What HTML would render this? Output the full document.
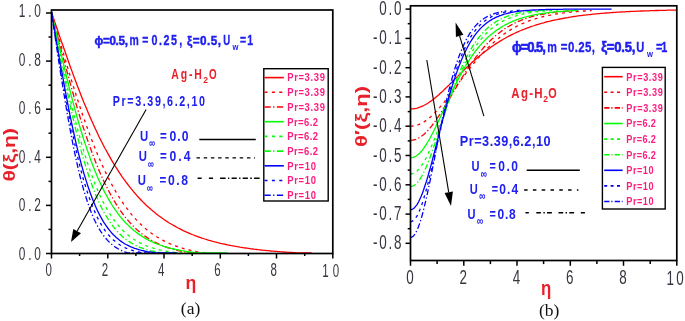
<!DOCTYPE html>
<html><head><meta charset="utf-8"><title>Figure</title>
<style>html,body{margin:0;padding:0;background:#fff}svg{display:block}</style>
</head><body>
<svg width="685" height="321" viewBox="0 0 685 321">
<rect width="685" height="321" fill="#fff"/>
<g id="panelA">
<polyline points="51.5,12.3 52.9,16.4 54.3,20.6 55.7,24.7 57.1,28.8 58.5,33.0 59.9,37.1 61.3,41.2 62.8,45.2 64.2,49.3 65.6,53.3 67.0,57.3 68.4,61.2 69.8,65.2 71.2,69.1 72.6,72.9 74.0,76.7 75.4,80.5 76.8,84.3 78.2,87.9 79.6,91.6 81.0,95.2 82.4,98.7 83.8,102.2 85.3,105.7 86.7,109.1 88.1,112.4 89.5,115.7 90.9,118.9 92.3,122.1 93.7,125.2 95.1,128.3 96.5,131.3 97.9,134.3 99.3,137.2 100.7,140.0 102.1,142.8 103.5,145.5 104.9,148.2 106.4,150.8 107.8,153.4 109.2,155.9 110.6,158.4 112.0,160.8 113.4,163.2 114.8,165.5 116.2,167.7 117.6,169.9 119.0,172.1 120.4,174.2 121.8,176.3 123.2,178.3 124.6,180.2 126.0,182.2 127.5,184.0 128.9,185.9 130.3,187.7 131.7,189.4 133.1,191.1 134.5,192.8 135.9,194.4 137.3,196.0 138.7,197.5 140.1,199.0 141.5,200.5 142.9,201.9 144.3,203.3 145.7,204.7 147.1,206.0 148.5,207.3 150.0,208.5 151.4,209.8 152.8,211.0 154.2,212.1 155.6,213.3 157.0,214.4 158.4,215.5 159.8,216.5 161.2,217.5 162.6,218.5 164.0,219.5 165.4,220.5 166.8,221.4 168.2,222.3 169.6,223.2 171.1,224.0 172.5,224.8 173.9,225.7 175.3,226.4 176.7,227.2 178.1,228.0 179.5,228.7 180.9,229.4 182.3,230.1 183.7,230.8 185.1,231.4 186.5,232.1 187.9,232.7 189.3,233.3 190.7,233.9 192.2,234.5 193.6,235.0 195.0,235.6 196.4,236.1 197.8,236.6 199.2,237.1 200.6,237.6 202.0,238.1 203.4,238.5 204.8,239.0 206.2,239.4 207.6,239.9 209.0,240.3 210.4,240.7 211.8,241.1 213.2,241.5 214.7,241.9 216.1,242.2 217.5,242.6 218.9,242.9 220.3,243.3 221.7,243.6 223.1,243.9 224.5,244.2 225.9,244.5 227.3,244.8 228.7,245.1 230.1,245.4 231.5,245.7 232.9,245.9 234.3,246.2 235.8,246.4 237.2,246.7 238.6,246.9 240.0,247.2 241.4,247.4 242.8,247.6 244.2,247.8 245.6,248.0 247.0,248.2 248.4,248.4 249.8,248.6 251.2,248.8 252.6,249.0 254.0,249.2 255.4,249.3 256.8,249.5 258.3,249.7 259.7,249.8 261.1,250.0 262.5,250.1 263.9,250.3 265.3,250.4 266.7,250.6 268.1,250.7 269.5,250.8 270.9,251.0 272.3,251.1 273.7,251.2 275.1,251.3 276.5,251.4 277.9,251.6 279.4,251.7 280.8,251.8 282.2,251.9 283.6,252.0 285.0,252.1 286.4,252.2 287.8,252.3 289.2,252.4 290.6,252.4 292.0,252.5 293.4,252.6 294.8,252.7 296.2,252.8 297.6,252.8 299.0,252.8 300.5,252.8 301.9,252.8 303.3,252.8 304.7,252.8 306.1,252.8 307.5,252.8 308.9,252.8 310.3,252.8 311.7,252.8" fill="none" stroke="#ff0000" stroke-width="1.3"/>
<polyline points="51.5,12.3 52.9,17.2 54.3,22.1 55.7,27.0 57.1,31.9 58.5,36.7 59.9,41.6 61.3,46.4 62.8,51.2 64.2,56.0 65.6,60.7 67.0,65.5 68.4,70.1 69.8,74.8 71.2,79.4 72.6,83.9 74.0,88.4 75.4,92.8 76.8,97.2 78.2,101.5 79.6,105.8 81.0,110.0 82.4,114.2 83.8,118.3 85.3,122.3 86.7,126.2 88.1,130.1 89.5,133.9 90.9,137.7 92.3,141.3 93.7,144.9 95.1,148.4 96.5,151.9 97.9,155.3 99.3,158.6 100.7,161.8 102.1,164.9 103.5,168.0 104.9,171.0 106.4,173.9 107.8,176.8 109.2,179.5 110.6,182.2 112.0,184.9 113.4,187.4 114.8,189.9 116.2,192.3 117.6,194.7 119.0,197.0 120.4,199.2 121.8,201.3 123.2,203.4 124.6,205.4 126.0,207.4 127.5,209.2 128.9,211.1 130.3,212.8 131.7,214.6 133.1,216.2 134.5,217.8 135.9,219.4 137.3,220.9 138.7,222.3 140.1,223.7 141.5,225.0 142.9,226.3 144.3,227.6 145.7,228.8 147.1,229.9 148.5,231.1 150.0,232.1 151.4,233.2 152.8,234.2 154.2,235.1 155.6,236.1 157.0,237.0 158.4,237.8 159.8,238.6 161.2,239.4 162.6,240.2 164.0,240.9 165.4,241.6 166.8,242.3 168.2,242.9 169.6,243.6 171.1,244.2 172.5,244.7 173.9,245.3 175.3,245.8 176.7,246.3 178.1,246.8 179.5,247.3 180.9,247.7 182.3,248.1 183.7,248.6 185.1,248.9 186.5,249.3 187.9,249.7 189.3,250.0 190.7,250.4 192.2,250.7 193.6,251.0 195.0,251.3 196.4,251.6 197.8,251.8 199.2,252.1 200.6,252.3 202.0,252.6 203.4,252.8 204.8,252.8 206.2,252.8" fill="none" stroke="#ff0000" stroke-width="1.3" stroke-dasharray="3 4"/>
<polyline points="51.5,12.3 52.9,17.8 54.3,23.2 55.7,28.7 57.1,34.2 58.5,39.6 59.9,45.0 61.3,50.4 62.8,55.7 64.2,61.1 65.6,66.3 67.0,71.5 68.4,76.7 69.8,81.8 71.2,86.8 72.6,91.8 74.0,96.7 75.4,101.6 76.8,106.4 78.2,111.0 79.6,115.7 81.0,120.2 82.4,124.6 83.8,129.0 85.3,133.3 86.7,137.5 88.1,141.6 89.5,145.6 90.9,149.5 92.3,153.3 93.7,157.0 95.1,160.7 96.5,164.2 97.9,167.6 99.3,171.0 100.7,174.2 102.1,177.4 103.5,180.5 104.9,183.5 106.4,186.4 107.8,189.2 109.2,191.9 110.6,194.5 112.0,197.0 113.4,199.5 114.8,201.9 116.2,204.2 117.6,206.4 119.0,208.5 120.4,210.6 121.8,212.5 123.2,214.5 124.6,216.3 126.0,218.1 127.5,219.8 128.9,221.4 130.3,223.0 131.7,224.5 133.1,225.9 134.5,227.3 135.9,228.7 137.3,230.0 138.7,231.2 140.1,232.4 141.5,233.5 142.9,234.6 144.3,235.6 145.7,236.6 147.1,237.6 148.5,238.5 150.0,239.4 151.4,240.2 152.8,241.0 154.2,241.8 155.6,242.5 157.0,243.2 158.4,243.9 159.8,244.5 161.2,245.1 162.6,245.7 164.0,246.3 165.4,246.8 166.8,247.3 168.2,247.8 169.6,248.2 171.1,248.7 172.5,249.1 173.9,249.5 175.3,249.9 176.7,250.2 178.1,250.6 179.5,250.9 180.9,251.2 182.3,251.5 183.7,251.8 185.1,252.0 186.5,252.3 187.9,252.5 189.3,252.8 190.7,252.8 192.2,252.8" fill="none" stroke="#ff0000" stroke-width="1.3" stroke-dasharray="5.8 2.3 1.3 2.3"/>
<polyline points="51.5,12.3 52.9,18.5 54.3,24.6 55.7,30.8 57.1,36.9 58.5,43.0 59.9,49.1 61.3,55.1 62.8,61.1 64.2,67.0 65.6,72.8 67.0,78.5 68.4,84.2 69.8,89.8 71.2,95.3 72.6,100.6 74.0,105.9 75.4,111.1 76.8,116.2 78.2,121.1 79.6,125.9 81.0,130.7 82.4,135.3 83.8,139.7 85.3,144.1 86.7,148.3 88.1,152.4 89.5,156.4 90.9,160.3 92.3,164.1 93.7,167.7 95.1,171.2 96.5,174.6 97.9,177.9 99.3,181.1 100.7,184.1 102.1,187.1 103.5,189.9 104.9,192.7 106.4,195.3 107.8,197.9 109.2,200.3 110.6,202.7 112.0,205.0 113.4,207.1 114.8,209.2 116.2,211.2 117.6,213.2 119.0,215.0 120.4,216.8 121.8,218.5 123.2,220.1 124.6,221.7 126.0,223.2 127.5,224.6 128.9,226.0 130.3,227.3 131.7,228.6 133.1,229.8 134.5,231.0 135.9,232.1 137.3,233.1 138.7,234.1 140.1,235.1 141.5,236.0 142.9,236.9 144.3,237.8 145.7,238.6 147.1,239.4 148.5,240.1 150.0,240.8 151.4,241.5 152.8,242.1 154.2,242.8 155.6,243.4 157.0,243.9 158.4,244.5 159.8,245.0 161.2,245.5 162.6,245.9 164.0,246.4 165.4,246.8 166.8,247.2 168.2,247.6 169.6,248.0 171.1,248.4 172.5,248.7 173.9,249.0 175.3,249.3 176.7,249.6 178.1,249.9 179.5,250.2 180.9,250.4 182.3,250.7 183.7,250.9 185.1,251.2 186.5,251.4 187.9,251.6 189.3,251.8 190.7,252.0 192.2,252.1 193.6,252.3 195.0,252.5 196.4,252.6 197.8,252.8 199.2,252.8 200.6,252.8 202.0,252.8 203.4,252.8 204.8,252.8 206.2,252.8 207.6,252.8 209.0,252.8 210.4,252.8 211.8,252.8 213.2,252.8 214.7,252.8 216.1,252.8 217.5,252.8 218.9,252.8 220.3,252.8 221.7,252.8 223.1,252.8 224.5,252.8 225.9,252.8 227.3,252.8" fill="none" stroke="#00ff00" stroke-width="1.3"/>
<polyline points="51.5,12.3 52.9,19.1 54.3,25.9 55.7,32.7 57.1,39.5 58.5,46.3 59.9,52.9 61.3,59.6 62.8,66.1 64.2,72.6 65.6,79.0 67.0,85.3 68.4,91.5 69.8,97.6 71.2,103.5 72.6,109.4 74.0,115.1 75.4,120.7 76.8,126.2 78.2,131.5 79.6,136.7 81.0,141.7 82.4,146.6 83.8,151.4 85.3,156.0 86.7,160.4 88.1,164.7 89.5,168.9 90.9,172.9 92.3,176.8 93.7,180.5 95.1,184.1 96.5,187.5 97.9,190.8 99.3,194.0 100.7,197.0 102.1,200.0 103.5,202.7 104.9,205.4 106.4,208.0 107.8,210.4 109.2,212.7 110.6,215.0 112.0,217.1 113.4,219.1 114.8,221.0 116.2,222.8 117.6,224.6 119.0,226.2 120.4,227.8 121.8,229.3 123.2,230.7 124.6,232.1 126.0,233.3 127.5,234.6 128.9,235.7 130.3,236.8 131.7,237.8 133.1,238.8 134.5,239.7 135.9,240.6 137.3,241.4 138.7,242.2 140.1,242.9 141.5,243.6 142.9,244.3 144.3,244.9 145.7,245.5 147.1,246.1 148.5,246.6 150.0,247.1 151.4,247.6 152.8,248.0 154.2,248.4 155.6,248.8 157.0,249.2 158.4,249.5 159.8,249.9 161.2,250.2 162.6,250.5 164.0,250.8 165.4,251.0 166.8,251.3 168.2,251.5 169.6,251.7 171.1,251.9 172.5,252.1 173.9,252.3 175.3,252.5 176.7,252.6 178.1,252.8 179.5,252.8 180.9,252.8 182.3,252.8 183.7,252.8 185.1,252.8 186.5,252.8 187.9,252.8 189.3,252.8 190.7,252.8 192.2,252.8" fill="none" stroke="#00ff00" stroke-width="1.3" stroke-dasharray="3 4"/>
<polyline points="51.5,12.3 52.9,19.7 54.3,27.0 55.7,34.4 57.1,41.7 58.5,48.9 59.9,56.1 61.3,63.2 62.8,70.3 64.2,77.2 65.6,84.0 67.0,90.8 68.4,97.4 69.8,103.8 71.2,110.2 72.6,116.4 74.0,122.4 75.4,128.3 76.8,134.0 78.2,139.6 79.6,145.0 81.0,150.2 82.4,155.3 83.8,160.2 85.3,164.9 86.7,169.5 88.1,173.8 89.5,178.0 90.9,182.1 92.3,186.0 93.7,189.7 95.1,193.3 96.5,196.7 97.9,199.9 99.3,203.0 100.7,206.0 102.1,208.8 103.5,211.5 104.9,214.0 106.4,216.4 107.8,218.7 109.2,220.9 110.6,223.0 112.0,224.9 113.4,226.8 114.8,228.5 116.2,230.2 117.6,231.8 119.0,233.2 120.4,234.6 121.8,235.9 123.2,237.2 124.6,238.3 126.0,239.4 127.5,240.5 128.9,241.4 130.3,242.4 131.7,243.2 133.1,244.0 134.5,244.8 135.9,245.5 137.3,246.2 138.7,246.8 140.1,247.4 141.5,247.9 142.9,248.4 144.3,248.9 145.7,249.4 147.1,249.8 148.5,250.2 150.0,250.6 151.4,250.9 152.8,251.2 154.2,251.5 155.6,251.8 157.0,252.1 158.4,252.3 159.8,252.6 161.2,252.8 162.6,252.8 164.0,252.8 165.4,252.8 166.8,252.8 168.2,252.8 169.6,252.8 171.1,252.8 172.5,252.8 173.9,252.8 175.3,252.8 176.7,252.8 178.1,252.8" fill="none" stroke="#00ff00" stroke-width="1.3" stroke-dasharray="5.8 2.3 1.3 2.3"/>
<polyline points="51.5,12.3 52.9,20.6 54.3,28.9 55.7,37.1 57.1,45.3 58.5,53.4 59.9,61.5 61.3,69.4 62.8,77.2 64.2,84.9 65.6,92.5 67.0,99.8 68.4,107.0 69.8,114.1 71.2,120.9 72.6,127.6 74.0,134.0 75.4,140.3 76.8,146.3 78.2,152.1 79.6,157.7 81.0,163.1 82.4,168.2 83.8,173.2 85.3,177.9 86.7,182.4 88.1,186.7 89.5,190.8 90.9,194.7 92.3,198.4 93.7,202.0 95.1,205.3 96.5,208.4 97.9,211.4 99.3,214.2 100.7,216.9 102.1,219.4 103.5,221.8 104.9,224.0 106.4,226.1 107.8,228.0 109.2,229.8 110.6,231.6 112.0,233.2 113.4,234.7 114.8,236.1 116.2,237.4 117.6,238.6 119.0,239.8 120.4,240.9 121.8,241.9 123.2,242.8 124.6,243.7 126.0,244.5 127.5,245.2 128.9,245.9 130.3,246.6 131.7,247.2 133.1,247.7 134.5,248.3 135.9,248.7 137.3,249.2 138.7,249.6 140.1,250.0 141.5,250.4 142.9,250.7 144.3,251.0 145.7,251.3 147.1,251.6 148.5,251.8 150.0,252.0 151.4,252.2 152.8,252.4 154.2,252.6 155.6,252.8 157.0,252.8 158.4,252.8 159.8,252.8 161.2,252.8 162.6,252.8 164.0,252.8 165.4,252.8 166.8,252.8 168.2,252.8 169.6,252.8 171.1,252.8 172.5,252.8 173.9,252.8 175.3,252.8 176.7,252.8" fill="none" stroke="#0000ff" stroke-width="1.3"/>
<polyline points="51.5,12.3 52.9,21.1 54.3,29.9 55.7,38.6 57.1,47.3 58.5,55.9 59.9,64.5 61.3,72.8 62.8,81.1 64.2,89.2 65.6,97.1 67.0,104.9 68.4,112.5 69.8,119.8 71.2,127.0 72.6,133.9 74.0,140.6 75.4,147.1 76.8,153.3 78.2,159.3 79.6,165.0 81.0,170.5 82.4,175.8 83.8,180.8 85.3,185.5 86.7,190.1 88.1,194.4 89.5,198.4 90.9,202.3 92.3,205.9 93.7,209.4 95.1,212.6 96.5,215.7 97.9,218.5 99.3,221.2 100.7,223.7 102.1,226.0 103.5,228.2 104.9,230.3 106.4,232.2 107.8,234.0 109.2,235.6 110.6,237.2 112.0,238.6 113.4,239.9 114.8,241.1 116.2,242.3 117.6,243.3 119.0,244.3 120.4,245.2 121.8,246.0 123.2,246.8 124.6,247.5 126.0,248.1 127.5,248.7 128.9,249.3 130.3,249.8 131.7,250.2 133.1,250.6 134.5,251.0 135.9,251.4 137.3,251.7 138.7,252.0 140.1,252.3 141.5,252.5 142.9,252.8 144.3,252.8 145.7,252.8 147.1,252.8 148.5,252.8 150.0,252.8 151.4,252.8 152.8,252.8 154.2,252.8 155.6,252.8 157.0,252.8 158.4,252.8 159.8,252.8 161.2,252.8 162.6,252.8 164.0,252.8" fill="none" stroke="#0000ff" stroke-width="1.3" stroke-dasharray="3 4"/>
<polyline points="51.5,12.3 52.9,21.8 54.3,31.4 55.7,40.8 57.1,50.2 58.5,59.5 59.9,68.7 61.3,77.7 62.8,86.6 64.2,95.3 65.6,103.7 67.0,112.0 68.4,120.0 69.8,127.8 71.2,135.3 72.6,142.5 74.0,149.5 75.4,156.2 76.8,162.6 78.2,168.7 79.6,174.5 81.0,180.1 82.4,185.4 83.8,190.4 85.3,195.1 86.7,199.5 88.1,203.7 89.5,207.7 90.9,211.4 92.3,214.9 93.7,218.2 95.1,221.2 96.5,224.0 97.9,226.7 99.3,229.1 100.7,231.4 102.1,233.5 103.5,235.5 104.9,237.3 106.4,239.0 107.8,240.6 109.2,242.0 110.6,243.3 112.0,244.5 113.4,245.6 114.8,246.7 116.2,247.6 117.6,248.5 119.0,249.3 120.4,250.0 121.8,250.7 123.2,251.3 124.6,251.8 126.0,252.3 127.5,252.8 128.9,252.8 130.3,252.8 131.7,252.8 133.1,252.8 134.5,252.8 135.9,252.8 137.3,252.8 138.7,252.8 140.1,252.8 141.5,252.8 142.9,252.8 144.3,252.8 145.7,252.8 147.1,252.8 148.5,252.8 150.0,252.8" fill="none" stroke="#0000ff" stroke-width="1.3" stroke-dasharray="5.8 2.3 1.3 2.3"/>
<rect x="51.5" y="10.0" width="281.3" height="243.5" fill="none" stroke="#000" stroke-width="1.7"/>
<line x1="46.0" y1="253.5" x2="51.5" y2="253.5" stroke="#000" stroke-width="1.5"/>
<line x1="48.5" y1="229.4" x2="51.5" y2="229.4" stroke="#000" stroke-width="1.5"/>
<line x1="46.0" y1="205.4" x2="51.5" y2="205.4" stroke="#000" stroke-width="1.5"/>
<line x1="48.5" y1="181.4" x2="51.5" y2="181.4" stroke="#000" stroke-width="1.5"/>
<line x1="46.0" y1="157.3" x2="51.5" y2="157.3" stroke="#000" stroke-width="1.5"/>
<line x1="48.5" y1="133.2" x2="51.5" y2="133.2" stroke="#000" stroke-width="1.5"/>
<line x1="46.0" y1="109.2" x2="51.5" y2="109.2" stroke="#000" stroke-width="1.5"/>
<line x1="48.5" y1="85.2" x2="51.5" y2="85.2" stroke="#000" stroke-width="1.5"/>
<line x1="46.0" y1="61.1" x2="51.5" y2="61.1" stroke="#000" stroke-width="1.5"/>
<line x1="48.5" y1="37.0" x2="51.5" y2="37.0" stroke="#000" stroke-width="1.5"/>
<line x1="46.0" y1="13.0" x2="51.5" y2="13.0" stroke="#000" stroke-width="1.5"/>
<line x1="51.5" y1="253.5" x2="51.5" y2="258.5" stroke="#000" stroke-width="1.5"/>
<line x1="79.6" y1="253.5" x2="79.6" y2="256.0" stroke="#000" stroke-width="1.5"/>
<line x1="107.8" y1="253.5" x2="107.8" y2="258.5" stroke="#000" stroke-width="1.5"/>
<line x1="135.9" y1="253.5" x2="135.9" y2="256.0" stroke="#000" stroke-width="1.5"/>
<line x1="164.0" y1="253.5" x2="164.0" y2="258.5" stroke="#000" stroke-width="1.5"/>
<line x1="192.2" y1="253.5" x2="192.2" y2="256.0" stroke="#000" stroke-width="1.5"/>
<line x1="220.3" y1="253.5" x2="220.3" y2="258.5" stroke="#000" stroke-width="1.5"/>
<line x1="248.4" y1="253.5" x2="248.4" y2="256.0" stroke="#000" stroke-width="1.5"/>
<line x1="276.5" y1="253.5" x2="276.5" y2="258.5" stroke="#000" stroke-width="1.5"/>
<line x1="304.7" y1="253.5" x2="304.7" y2="256.0" stroke="#000" stroke-width="1.5"/>
<line x1="332.8" y1="253.5" x2="332.8" y2="258.5" stroke="#000" stroke-width="1.5"/>
<text transform="translate(18.8,259.6) scale(0.66,1)" font-family="Liberation Sans, Arial, sans-serif" font-size="18" fill="#3a3340" letter-spacing="4.16">0.0</text>
<text transform="translate(18.8,211.2) scale(0.66,1)" font-family="Liberation Sans, Arial, sans-serif" font-size="18" fill="#3a3340" letter-spacing="4.16">0.2</text>
<text transform="translate(18.8,162.8) scale(0.66,1)" font-family="Liberation Sans, Arial, sans-serif" font-size="18" fill="#3a3340" letter-spacing="4.16">0.4</text>
<text transform="translate(18.8,114.3) scale(0.66,1)" font-family="Liberation Sans, Arial, sans-serif" font-size="18" fill="#3a3340" letter-spacing="4.16">0.6</text>
<text transform="translate(18.8,65.9) scale(0.66,1)" font-family="Liberation Sans, Arial, sans-serif" font-size="18" fill="#3a3340" letter-spacing="4.16">0.8</text>
<text transform="translate(18.8,17.4) scale(0.66,1)" font-family="Liberation Sans, Arial, sans-serif" font-size="18" fill="#3a3340" letter-spacing="4.16">1.0</text>
<text transform="translate(45.5,276.4) scale(0.64,1)" font-family="Liberation Sans, Arial, sans-serif" font-size="18" fill="#3a3340">0</text>
<text transform="translate(101.8,276.4) scale(0.64,1)" font-family="Liberation Sans, Arial, sans-serif" font-size="18" fill="#3a3340">2</text>
<text transform="translate(158.0,276.4) scale(0.64,1)" font-family="Liberation Sans, Arial, sans-serif" font-size="18" fill="#3a3340">4</text>
<text transform="translate(214.3,276.4) scale(0.64,1)" font-family="Liberation Sans, Arial, sans-serif" font-size="18" fill="#3a3340">6</text>
<text transform="translate(270.5,276.4) scale(0.64,1)" font-family="Liberation Sans, Arial, sans-serif" font-size="18" fill="#3a3340">8</text>
<text transform="translate(322.2,276.6) scale(0.64,1)" font-family="Liberation Sans, Arial, sans-serif" font-size="18" fill="#3a3340" letter-spacing="6.54">10</text>
</g>
<g id="panelB">
<polyline points="410.5,108.9 411.8,108.9 413.2,108.8 414.5,108.6 415.8,108.4 417.2,108.1 418.5,107.7 419.8,107.2 421.2,106.7 422.5,106.1 423.8,105.5 425.1,104.8 426.5,104.0 427.8,103.2 429.1,102.3 430.5,101.4 431.8,100.4 433.1,99.4 434.5,98.4 435.8,97.3 437.1,96.2 438.5,95.0 439.8,93.8 441.1,92.6 442.5,91.4 443.8,90.1 445.1,88.8 446.5,87.5 447.8,86.2 449.1,84.9 450.4,83.6 451.8,82.3 453.1,80.9 454.4,79.6 455.8,78.2 457.1,76.9 458.4,75.6 459.8,74.3 461.1,72.9 462.4,71.6 463.8,70.3 465.1,69.0 466.4,67.8 467.8,66.5 469.1,65.2 470.4,64.0 471.7,62.8 473.1,61.6 474.4,60.4 475.7,59.2 477.1,58.1 478.4,56.9 479.7,55.8 481.1,54.7 482.4,53.6 483.7,52.6 485.1,51.6 486.4,50.5 487.7,49.5 489.1,48.6 490.4,47.6 491.7,46.6 493.1,45.7 494.4,44.8 495.7,43.9 497.0,43.1 498.4,42.2 499.7,41.4 501.0,40.6 502.4,39.8 503.7,39.0 505.0,38.3 506.4,37.5 507.7,36.8 509.0,36.1 510.4,35.4 511.7,34.7 513.0,34.1 514.4,33.5 515.7,32.8 517.0,32.2 518.4,31.6 519.7,31.0 521.0,30.5 522.3,29.9 523.7,29.4 525.0,28.9 526.3,28.3 527.7,27.8 529.0,27.4 530.3,26.9 531.7,26.4 533.0,26.0 534.3,25.5 535.7,25.1 537.0,24.7 538.3,24.3 539.7,23.9 541.0,23.5 542.3,23.1 543.6,22.8 545.0,22.4 546.3,22.0 547.6,21.7 549.0,21.4 550.3,21.1 551.6,20.7 553.0,20.4 554.3,20.1 555.6,19.8 557.0,19.6 558.3,19.3 559.6,19.0 561.0,18.8 562.3,18.5 563.6,18.3 565.0,18.0 566.3,17.8 567.6,17.6 568.9,17.3 570.3,17.1 571.6,16.9 572.9,16.7 574.3,16.5 575.6,16.3 576.9,16.1 578.3,15.9 579.6,15.7 580.9,15.6 582.3,15.4 583.6,15.2 584.9,15.1 586.3,14.9 587.6,14.8 588.9,14.6 590.3,14.5 591.6,14.3 592.9,14.2 594.2,14.1 595.6,13.9 596.9,13.8 598.2,13.7 599.6,13.6 600.9,13.4 602.2,13.3 603.6,13.2 604.9,13.1 606.2,13.0 607.6,12.9 608.9,12.8 610.2,12.7 611.6,12.6 612.9,12.5 614.2,12.4 615.6,12.3 616.9,12.2 618.2,12.2 619.5,12.1 620.9,12.0 622.2,11.9 623.5,11.8 624.9,11.8 626.2,11.7 627.5,11.6 628.9,11.6 630.2,11.5 631.5,11.4 632.9,11.4 634.2,11.3 635.5,11.3 636.9,11.2 638.2,11.1 639.5,11.1 640.8,11.0 642.2,11.0 643.5,10.9 644.8,10.9 646.2,10.8 647.5,10.8 648.8,10.8 650.2,10.7 651.5,10.7 652.8,10.6 654.2,10.6 655.5,10.5 656.8,10.5 658.2,10.5 659.5,10.4 660.8,10.4 662.2,10.4 663.5,10.3 664.8,10.3 666.1,10.3 667.5,10.2 668.8,10.2 670.1,10.2 671.5,10.1 672.8,10.1 674.1,10.1 675.5,10.1 676.8,10.0" fill="none" stroke="#ff0000" stroke-width="1.3"/>
<polyline points="410.5,126.2 411.8,126.2 413.2,126.0 414.5,125.8 415.8,125.5 417.2,125.1 418.5,124.7 419.8,124.1 421.2,123.5 422.5,122.8 423.8,122.0 425.1,121.1 426.5,120.2 427.8,119.2 429.1,118.1 430.5,116.9 431.8,115.7 433.1,114.5 434.5,113.1 435.8,111.8 437.1,110.3 438.5,108.9 439.8,107.4 441.1,105.8 442.5,104.2 443.8,102.6 445.1,100.9 446.5,99.2 447.8,97.5 449.1,95.8 450.4,94.0 451.8,92.3 453.1,90.5 454.4,88.7 455.8,86.9 457.1,85.1 458.4,83.3 459.8,81.5 461.1,79.8 462.4,78.0 463.8,76.2 465.1,74.5 466.4,72.7 467.8,71.0 469.1,69.3 470.4,67.6 471.7,65.9 473.1,64.3 474.4,62.7 475.7,61.1 477.1,59.5 478.4,57.9 479.7,56.4 481.1,54.9 482.4,53.5 483.7,52.1 485.1,50.7 486.4,49.3 487.7,48.0 489.1,46.6 490.4,45.4 491.7,44.1 493.1,42.9 494.4,41.7 495.7,40.6 497.0,39.5 498.4,38.4 499.7,37.3 501.0,36.3 502.4,35.3 503.7,34.3 505.0,33.4 506.4,32.5 507.7,31.6 509.0,30.8 510.4,29.9 511.7,29.1 513.0,28.4 514.4,27.6 515.7,26.9 517.0,26.2 518.4,25.5 519.7,24.9 521.0,24.2 522.3,23.6 523.7,23.1 525.0,22.5 526.3,22.0 527.7,21.4 529.0,20.9 530.3,20.4 531.7,20.0 533.0,19.5 534.3,19.1 535.7,18.7 537.0,18.3 538.3,17.9 539.7,17.5 541.0,17.2 542.3,16.8 543.6,16.5 545.0,16.2 546.3,15.9 547.6,15.6 549.0,15.3 550.3,15.1 551.6,14.8 553.0,14.6 554.3,14.3 555.6,14.1 557.0,13.9 558.3,13.7 559.6,13.5 561.0,13.3 562.3,13.1 563.6,12.9 565.0,12.8 566.3,12.6 567.6,12.5 568.9,12.3 570.3,12.2 571.6,12.0 572.9,11.9 574.3,11.8 575.6,11.7 576.9,11.5 578.3,11.4 579.6,11.3 580.9,11.2 582.3,11.1 583.6,11.0 584.9,11.0 586.3,10.9 587.6,10.8 588.9,10.7 590.3,10.6 591.6,10.6" fill="none" stroke="#ff0000" stroke-width="1.3" stroke-dasharray="3 4"/>
<polyline points="410.5,140.3 411.8,140.2 413.2,140.0 414.5,139.7 415.8,139.3 417.2,138.8 418.5,138.1 419.8,137.3 421.2,136.4 422.5,135.5 423.8,134.4 425.1,133.2 426.5,131.9 427.8,130.5 429.1,129.0 430.5,127.4 431.8,125.8 433.1,124.0 434.5,122.2 435.8,120.4 437.1,118.4 438.5,116.5 439.8,114.4 441.1,112.4 442.5,110.3 443.8,108.1 445.1,105.9 446.5,103.7 447.8,101.5 449.1,99.3 450.4,97.0 451.8,94.8 453.1,92.6 454.4,90.3 455.8,88.1 457.1,85.8 458.4,83.6 459.8,81.4 461.1,79.3 462.4,77.1 463.8,75.0 465.1,72.9 466.4,70.8 467.8,68.8 469.1,66.8 470.4,64.8 471.7,62.9 473.1,61.0 474.4,59.2 475.7,57.4 477.1,55.6 478.4,53.9 479.7,52.3 481.1,50.6 482.4,49.1 483.7,47.5 485.1,46.0 486.4,44.6 487.7,43.2 489.1,41.8 490.4,40.5 491.7,39.2 493.1,38.0 494.4,36.8 495.7,35.6 497.0,34.5 498.4,33.4 499.7,32.4 501.0,31.4 502.4,30.4 503.7,29.5 505.0,28.6 506.4,27.8 507.7,26.9 509.0,26.2 510.4,25.4 511.7,24.7 513.0,24.0 514.4,23.3 515.7,22.6 517.0,22.0 518.4,21.4 519.7,20.9 521.0,20.3 522.3,19.8 523.7,19.3 525.0,18.8 526.3,18.4 527.7,17.9 529.0,17.5 530.3,17.1 531.7,16.7 533.0,16.4 534.3,16.0 535.7,15.7 537.0,15.4 538.3,15.1 539.7,14.8 541.0,14.5 542.3,14.3 543.6,14.0 545.0,13.8 546.3,13.5 547.6,13.3 549.0,13.1 550.3,12.9 551.6,12.7 553.0,12.6 554.3,12.4 555.6,12.2 557.0,12.1 558.3,11.9 559.6,11.8 561.0,11.7 562.3,11.5 563.6,11.4 565.0,11.3 566.3,11.2 567.6,11.1 568.9,11.0 570.3,10.9 571.6,10.8 572.9,10.7 574.3,10.6 575.6,10.6" fill="none" stroke="#ff0000" stroke-width="1.3" stroke-dasharray="5.8 2.3 1.3 2.3"/>
<polyline points="410.5,157.8 411.8,157.7 413.2,157.4 414.5,156.9 415.8,156.2 417.2,155.3 418.5,154.3 419.8,153.0 421.2,151.5 422.5,149.9 423.8,148.2 425.1,146.2 426.5,144.2 427.8,142.0 429.1,139.7 430.5,137.3 431.8,134.8 433.1,132.2 434.5,129.5 435.8,126.7 437.1,123.9 438.5,121.1 439.8,118.2 441.1,115.3 442.5,112.4 443.8,109.5 445.1,106.6 446.5,103.7 447.8,100.8 449.1,97.9 450.4,95.0 451.8,92.2 453.1,89.5 454.4,86.7 455.8,84.1 457.1,81.4 458.4,78.8 459.8,76.3 461.1,73.9 462.4,71.5 463.8,69.1 465.1,66.8 466.4,64.6 467.8,62.5 469.1,60.4 470.4,58.4 471.7,56.4 473.1,54.5 474.4,52.7 475.7,50.9 477.1,49.2 478.4,47.5 479.7,45.9 481.1,44.4 482.4,42.9 483.7,41.5 485.1,40.1 486.4,38.8 487.7,37.6 489.1,36.3 490.4,35.2 491.7,34.0 493.1,33.0 494.4,31.9 495.7,30.9 497.0,30.0 498.4,29.1 499.7,28.2 501.0,27.4 502.4,26.5 503.7,25.8 505.0,25.0 506.4,24.3 507.7,23.7 509.0,23.0 510.4,22.4 511.7,21.8 513.0,21.2 514.4,20.7 515.7,20.2 517.0,19.7 518.4,19.2 519.7,18.7 521.0,18.3 522.3,17.9 523.7,17.5 525.0,17.1 526.3,16.8 527.7,16.4 529.0,16.1 530.3,15.8 531.7,15.5 533.0,15.2 534.3,14.9 535.7,14.6 537.0,14.4 538.3,14.2 539.7,13.9 541.0,13.7 542.3,13.5 543.6,13.3 545.0,13.1 546.3,12.9 547.6,12.8 549.0,12.6 550.3,12.4 551.6,12.3 553.0,12.1 554.3,12.0 555.6,11.9 557.0,11.7 558.3,11.6 559.6,11.5 561.0,11.4 562.3,11.3 563.6,11.2 565.0,11.1 566.3,11.0 567.6,10.9 568.9,10.8 570.3,10.8 571.6,10.7 572.9,10.6 574.3,10.5 575.6,10.5 576.9,10.4 578.3,10.4" fill="none" stroke="#00ff00" stroke-width="1.3"/>
<polyline points="410.5,173.9 411.8,173.8 413.2,173.4 414.5,172.8 415.8,172.0 417.2,170.9 418.5,169.5 419.8,168.0 421.2,166.2 422.5,164.2 423.8,162.0 425.1,159.7 426.5,157.2 427.8,154.5 429.1,151.6 430.5,148.7 431.8,145.6 433.1,142.4 434.5,139.1 435.8,135.7 437.1,132.3 438.5,128.8 439.8,125.3 441.1,121.8 442.5,118.2 443.8,114.7 445.1,111.1 446.5,107.6 447.8,104.1 449.1,100.6 450.4,97.2 451.8,93.8 453.1,90.5 454.4,87.2 455.8,84.0 457.1,80.9 458.4,77.9 459.8,74.9 461.1,72.0 462.4,69.2 463.8,66.5 465.1,63.9 466.4,61.4 467.8,58.9 469.1,56.6 470.4,54.3 471.7,52.1 473.1,50.0 474.4,48.0 475.7,46.0 477.1,44.2 478.4,42.4 479.7,40.7 481.1,39.1 482.4,37.5 483.7,36.0 485.1,34.6 486.4,33.3 487.7,32.0 489.1,30.8 490.4,29.6 491.7,28.5 493.1,27.4 494.4,26.4 495.7,25.5 497.0,24.6 498.4,23.7 499.7,22.9 501.0,22.1 502.4,21.4 503.7,20.7 505.0,20.1 506.4,19.5 507.7,18.9 509.0,18.3 510.4,17.8 511.7,17.3 513.0,16.8 514.4,16.4 515.7,16.0 517.0,15.6 518.4,15.2 519.7,14.9 521.0,14.5 522.3,14.2 523.7,13.9 525.0,13.6 526.3,13.4 527.7,13.1 529.0,12.9 530.3,12.7 531.7,12.5 533.0,12.3 534.3,12.1 535.7,11.9 537.0,11.7 538.3,11.6 539.7,11.4 541.0,11.3 542.3,11.2 543.6,11.1 545.0,10.9 546.3,10.8 547.6,10.7 549.0,10.6 550.3,10.5 551.6,10.5 553.0,10.4 554.3,10.3 555.6,10.2 557.0,10.2 558.3,10.1" fill="none" stroke="#00ff00" stroke-width="1.3" stroke-dasharray="3 4"/>
<polyline points="410.5,186.5 411.8,186.4 413.2,185.9 414.5,185.2 415.8,184.1 417.2,182.8 418.5,181.2 419.8,179.3 421.2,177.2 422.5,174.8 423.8,172.2 425.1,169.4 426.5,166.4 427.8,163.2 429.1,159.8 430.5,156.2 431.8,152.6 433.1,148.8 434.5,144.9 435.8,141.0 437.1,137.0 438.5,132.9 439.8,128.8 441.1,124.7 442.5,120.6 443.8,116.5 445.1,112.4 446.5,108.4 447.8,104.4 449.1,100.4 450.4,96.6 451.8,92.8 453.1,89.1 454.4,85.5 455.8,81.9 457.1,78.5 458.4,75.2 459.8,71.9 461.1,68.8 462.4,65.8 463.8,62.9 465.1,60.1 466.4,57.4 467.8,54.9 469.1,52.4 470.4,50.0 471.7,47.8 473.1,45.6 474.4,43.6 475.7,41.6 477.1,39.8 478.4,38.0 479.7,36.3 481.1,34.7 482.4,33.2 483.7,31.8 485.1,30.4 486.4,29.1 487.7,27.9 489.1,26.7 490.4,25.7 491.7,24.6 493.1,23.7 494.4,22.8 495.7,21.9 497.0,21.1 498.4,20.3 499.7,19.6 501.0,19.0 502.4,18.3 503.7,17.7 505.0,17.2 506.4,16.7 507.7,16.2 509.0,15.7 510.4,15.3 511.7,14.9 513.0,14.5 514.4,14.1 515.7,13.8 517.0,13.5 518.4,13.2 519.7,12.9 521.0,12.7 522.3,12.4 523.7,12.2 525.0,12.0 526.3,11.8 527.7,11.6 529.0,11.5 530.3,11.3 531.7,11.2 533.0,11.0 534.3,10.9 535.7,10.8 537.0,10.7 538.3,10.6 539.7,10.5 541.0,10.4 542.3,10.3 543.6,10.2 545.0,10.1 546.3,10.1 547.6,10.0 549.0,9.9" fill="none" stroke="#00ff00" stroke-width="1.3" stroke-dasharray="5.8 2.3 1.3 2.3"/>
<polyline points="410.5,209.7 411.8,209.5 413.2,208.8 414.5,207.7 415.8,206.2 417.2,204.3 418.5,202.0 419.8,199.3 421.2,196.3 422.5,192.9 423.8,189.3 425.1,185.3 426.5,181.1 427.8,176.7 429.1,172.0 430.5,167.2 431.8,162.3 433.1,157.2 434.5,152.0 435.8,146.8 437.1,141.6 438.5,136.3 439.8,131.1 441.1,125.9 442.5,120.7 443.8,115.6 445.1,110.6 446.5,105.7 447.8,101.0 449.1,96.3 450.4,91.8 451.8,87.4 453.1,83.2 454.4,79.1 455.8,75.1 457.1,71.4 458.4,67.7 459.8,64.3 461.1,61.0 462.4,57.8 463.8,54.8 465.1,52.0 466.4,49.3 467.8,46.7 469.1,44.3 470.4,42.0 471.7,39.9 473.1,37.8 474.4,35.9 475.7,34.1 477.1,32.4 478.4,30.8 479.7,29.3 481.1,27.9 482.4,26.6 483.7,25.4 485.1,24.2 486.4,23.2 487.7,22.2 489.1,21.2 490.4,20.4 491.7,19.6 493.1,18.8 494.4,18.1 495.7,17.4 497.0,16.8 498.4,16.3 499.7,15.7 501.0,15.3 502.4,14.8 503.7,14.4 505.0,14.0 506.4,13.6 507.7,13.3 509.0,13.0 510.4,12.7 511.7,12.4 513.0,12.2 514.4,11.9 515.7,11.7 517.0,11.5 518.4,11.3 519.7,11.2 521.0,11.0 522.3,10.9 523.7,10.7 525.0,10.6 526.3,10.5 527.7,10.4 529.0,10.3 530.3,10.2 531.7,10.1 533.0,10.0 534.3,10.0 535.7,9.9 537.0,9.8 538.3,9.8 539.7,9.7 541.0,9.7 542.3,9.6 543.6,9.6 545.0,9.6 546.3,9.5 547.6,9.5 549.0,9.5 550.3,9.4 551.6,9.4 553.0,9.4 554.3,9.4 555.6,9.3 557.0,9.3 558.3,9.3 559.6,9.3 561.0,9.3 562.3,9.3 563.6,9.2 565.0,9.2 566.3,9.2 567.6,9.2 568.9,9.2 570.3,9.2 571.6,9.2 572.9,9.2 574.3,9.2 575.6,9.2 576.9,9.2 578.3,9.2 579.6,9.2 580.9,9.2 582.3,9.1 583.6,9.1 584.9,9.1 586.3,9.1 587.6,9.1 588.9,9.1 590.3,9.1 591.6,9.1 592.9,9.1 594.2,9.1 595.6,9.1 596.9,9.1 598.2,9.1 599.6,9.1 600.9,9.1 602.2,9.1 603.6,9.1 604.9,9.1 606.2,9.1 607.6,9.1 608.9,9.1 610.2,9.1 611.6,9.1" fill="none" stroke="#0000ff" stroke-width="1.3"/>
<polyline points="410.5,221.7 411.8,221.4 413.2,220.7 414.5,219.4 415.8,217.7 417.2,215.6 418.5,212.9 419.8,209.9 421.2,206.4 422.5,202.6 423.8,198.4 425.1,193.9 426.5,189.1 427.8,184.1 429.1,178.8 430.5,173.3 431.8,167.7 433.1,162.0 434.5,156.2 435.8,150.4 437.1,144.5 438.5,138.6 439.8,132.7 441.1,126.9 442.5,121.2 443.8,115.6 445.1,110.1 446.5,104.7 447.8,99.5 449.1,94.4 450.4,89.5 451.8,84.7 453.1,80.2 454.4,75.8 455.8,71.6 457.1,67.6 458.4,63.8 459.8,60.2 461.1,56.7 462.4,53.5 463.8,50.4 465.1,47.5 466.4,44.8 467.8,42.2 469.1,39.8 470.4,37.5 471.7,35.4 473.1,33.4 474.4,31.6 475.7,29.8 477.1,28.2 478.4,26.7 479.7,25.3 481.1,24.1 482.4,22.9 483.7,21.8 485.1,20.7 486.4,19.8 487.7,18.9 489.1,18.1 490.4,17.4 491.7,16.7 493.1,16.0 494.4,15.4 495.7,14.9 497.0,14.4 498.4,14.0 499.7,13.6 501.0,13.2 502.4,12.8 503.7,12.5 505.0,12.2 506.4,11.9 507.7,11.7 509.0,11.5 510.4,11.3 511.7,11.1 513.0,10.9 514.4,10.7 515.7,10.6 517.0,10.5 518.4,10.3 519.7,10.2 521.0,10.1 522.3,10.0" fill="none" stroke="#0000ff" stroke-width="1.3" stroke-dasharray="3 4"/>
<polyline points="410.5,237.5 411.8,237.2 413.2,236.3 414.5,234.7 415.8,232.6 417.2,229.9 418.5,226.7 419.8,222.9 421.2,218.7 422.5,214.0 423.8,208.9 425.1,203.4 426.5,197.7 427.8,191.6 429.1,185.3 430.5,178.8 431.8,172.2 433.1,165.5 434.5,158.7 435.8,151.9 437.1,145.1 438.5,138.4 439.8,131.8 441.1,125.2 442.5,118.8 443.8,112.6 445.1,106.5 446.5,100.7 447.8,95.0 449.1,89.6 450.4,84.3 451.8,79.3 453.1,74.6 454.4,70.1 455.8,65.8 457.1,61.7 458.4,57.9 459.8,54.3 461.1,50.9 462.4,47.7 463.8,44.7 465.1,41.9 466.4,39.3 467.8,36.9 469.1,34.7 470.4,32.6 471.7,30.6 473.1,28.8 474.4,27.2 475.7,25.6 477.1,24.2 478.4,22.9 479.7,21.7 481.1,20.6 482.4,19.6 483.7,18.7 485.1,17.8 486.4,17.1 487.7,16.3 489.1,15.7 490.4,15.1 491.7,14.5 493.1,14.1 494.4,13.6 495.7,13.2 497.0,12.8 498.4,12.5 499.7,12.1 501.0,11.9 502.4,11.6 503.7,11.4 505.0,11.2 506.4,11.0" fill="none" stroke="#0000ff" stroke-width="1.3" stroke-dasharray="5.8 2.3 1.3 2.3"/>
<rect x="410.5" y="5.8" width="266.3" height="254.7" fill="none" stroke="#000" stroke-width="1.7"/>
<line x1="405.5" y1="9.1" x2="410.5" y2="9.1" stroke="#000" stroke-width="1.5"/>
<line x1="407.7" y1="23.7" x2="410.5" y2="23.7" stroke="#000" stroke-width="1.5"/>
<line x1="405.5" y1="38.4" x2="410.5" y2="38.4" stroke="#000" stroke-width="1.5"/>
<line x1="407.7" y1="53.0" x2="410.5" y2="53.0" stroke="#000" stroke-width="1.5"/>
<line x1="405.5" y1="67.7" x2="410.5" y2="67.7" stroke="#000" stroke-width="1.5"/>
<line x1="407.7" y1="82.3" x2="410.5" y2="82.3" stroke="#000" stroke-width="1.5"/>
<line x1="405.5" y1="96.9" x2="410.5" y2="96.9" stroke="#000" stroke-width="1.5"/>
<line x1="407.7" y1="111.6" x2="410.5" y2="111.6" stroke="#000" stroke-width="1.5"/>
<line x1="405.5" y1="126.2" x2="410.5" y2="126.2" stroke="#000" stroke-width="1.5"/>
<line x1="407.7" y1="140.9" x2="410.5" y2="140.9" stroke="#000" stroke-width="1.5"/>
<line x1="405.5" y1="155.5" x2="410.5" y2="155.5" stroke="#000" stroke-width="1.5"/>
<line x1="407.7" y1="170.1" x2="410.5" y2="170.1" stroke="#000" stroke-width="1.5"/>
<line x1="405.5" y1="184.8" x2="410.5" y2="184.8" stroke="#000" stroke-width="1.5"/>
<line x1="407.7" y1="199.4" x2="410.5" y2="199.4" stroke="#000" stroke-width="1.5"/>
<line x1="405.5" y1="214.1" x2="410.5" y2="214.1" stroke="#000" stroke-width="1.5"/>
<line x1="407.7" y1="228.7" x2="410.5" y2="228.7" stroke="#000" stroke-width="1.5"/>
<line x1="405.5" y1="243.3" x2="410.5" y2="243.3" stroke="#000" stroke-width="1.5"/>
<line x1="410.5" y1="260.5" x2="410.5" y2="265.8" stroke="#000" stroke-width="1.5"/>
<line x1="437.1" y1="260.5" x2="437.1" y2="264.1" stroke="#000" stroke-width="1.5"/>
<line x1="463.8" y1="260.5" x2="463.8" y2="265.8" stroke="#000" stroke-width="1.5"/>
<line x1="490.4" y1="260.5" x2="490.4" y2="264.1" stroke="#000" stroke-width="1.5"/>
<line x1="517.0" y1="260.5" x2="517.0" y2="265.8" stroke="#000" stroke-width="1.5"/>
<line x1="543.6" y1="260.5" x2="543.6" y2="264.1" stroke="#000" stroke-width="1.5"/>
<line x1="570.3" y1="260.5" x2="570.3" y2="265.8" stroke="#000" stroke-width="1.5"/>
<line x1="596.9" y1="260.5" x2="596.9" y2="264.1" stroke="#000" stroke-width="1.5"/>
<line x1="623.5" y1="260.5" x2="623.5" y2="265.8" stroke="#000" stroke-width="1.5"/>
<line x1="650.2" y1="260.5" x2="650.2" y2="264.1" stroke="#000" stroke-width="1.5"/>
<line x1="676.8" y1="260.5" x2="676.8" y2="265.8" stroke="#000" stroke-width="1.5"/>
<text transform="translate(379.3,15.1) scale(0.64,1)" font-family="Liberation Sans, Arial, sans-serif" font-size="21" fill="#3a3340" letter-spacing="2.83">0.0</text>
<text transform="translate(372.9,44.4) scale(0.64,1)" font-family="Liberation Sans, Arial, sans-serif" font-size="21" fill="#3a3340" letter-spacing="2.89">-0.1</text>
<text transform="translate(372.9,73.7) scale(0.64,1)" font-family="Liberation Sans, Arial, sans-serif" font-size="21" fill="#3a3340" letter-spacing="2.89">-0.2</text>
<text transform="translate(372.9,102.9) scale(0.64,1)" font-family="Liberation Sans, Arial, sans-serif" font-size="21" fill="#3a3340" letter-spacing="2.89">-0.3</text>
<text transform="translate(372.9,132.2) scale(0.64,1)" font-family="Liberation Sans, Arial, sans-serif" font-size="21" fill="#3a3340" letter-spacing="2.89">-0.4</text>
<text transform="translate(372.9,161.5) scale(0.64,1)" font-family="Liberation Sans, Arial, sans-serif" font-size="21" fill="#3a3340" letter-spacing="2.89">-0.5</text>
<text transform="translate(372.9,190.8) scale(0.64,1)" font-family="Liberation Sans, Arial, sans-serif" font-size="21" fill="#3a3340" letter-spacing="2.89">-0.6</text>
<text transform="translate(372.9,220.1) scale(0.64,1)" font-family="Liberation Sans, Arial, sans-serif" font-size="21" fill="#3a3340" letter-spacing="2.89">-0.7</text>
<text transform="translate(372.9,249.3) scale(0.64,1)" font-family="Liberation Sans, Arial, sans-serif" font-size="21" fill="#3a3340" letter-spacing="2.89">-0.8</text>
<text transform="translate(406.3,284.3) scale(0.64,1)" font-family="Liberation Sans, Arial, sans-serif" font-size="21" fill="#3a3340">0</text>
<text transform="translate(459.6,284.3) scale(0.64,1)" font-family="Liberation Sans, Arial, sans-serif" font-size="21" fill="#3a3340">2</text>
<text transform="translate(512.8,284.3) scale(0.64,1)" font-family="Liberation Sans, Arial, sans-serif" font-size="21" fill="#3a3340">4</text>
<text transform="translate(566.1,284.3) scale(0.64,1)" font-family="Liberation Sans, Arial, sans-serif" font-size="21" fill="#3a3340">6</text>
<text transform="translate(619.3,284.3) scale(0.64,1)" font-family="Liberation Sans, Arial, sans-serif" font-size="21" fill="#3a3340">8</text>
<text transform="translate(666.5999999999999,284.5) scale(0.64,1)" font-family="Liberation Sans, Arial, sans-serif" font-size="21" fill="#3a3340" letter-spacing="3.52">10</text>
</g>
<g id="annA">
<text transform="translate(94.5,45) scale(0.9,1)" font-family="Liberation Sans, Arial, sans-serif" font-size="13" font-weight="bold" fill="#2020f0" stroke="#2020f0" stroke-width="0.5" letter-spacing="-0.36">ϕ=0.5,</text>
<text transform="translate(129.5,45) scale(0.72,1)" font-family="Liberation Sans, Arial, sans-serif" font-size="14.5" font-weight="bold" fill="#2020f0" stroke="#2020f0" stroke-width="0.3">m</text>
<text transform="translate(142.3,45) scale(0.72,1)" font-family="Liberation Sans, Arial, sans-serif" font-size="14.5" font-weight="bold" fill="#2020f0" stroke="#2020f0" stroke-width="0.3">=</text>
<text transform="translate(151.5,45) scale(0.74,1)" font-family="Liberation Sans, Arial, sans-serif" font-size="14.5" font-weight="bold" fill="#2020f0" stroke="#2020f0" stroke-width="0.3" letter-spacing="2.08">0.25</text>
<text transform="translate(179.3,45) scale(0.75,1)" font-family="Liberation Sans, Arial, sans-serif" font-size="14.5" font-weight="bold" fill="#2020f0" stroke="#2020f0" stroke-width="0.3">,</text>
<text transform="translate(187,45) scale(0.9,1)" font-family="Liberation Sans, Arial, sans-serif" font-size="13" font-weight="bold" fill="#2020f0" stroke="#2020f0" stroke-width="0.5" letter-spacing="0.54">ξ=0.5,</text>
<text transform="translate(223.3,45) scale(0.66,1)" font-family="Liberation Sans, Arial, sans-serif" font-size="14.5" font-weight="bold" fill="#2020f0" stroke="#2020f0" stroke-width="0.3">U</text>
<text transform="translate(232.5,49.6) scale(0.9,1)" font-family="Liberation Sans, Arial, sans-serif" font-size="8.5" font-weight="bold" fill="#2020f0">w</text>
<text transform="translate(240,45) scale(0.72,1)" font-family="Liberation Sans, Arial, sans-serif" font-size="14.5" font-weight="bold" fill="#2020f0" stroke="#2020f0" stroke-width="0.3">=</text>
<text transform="translate(247.3,45) scale(0.72,1)" font-family="Liberation Sans, Arial, sans-serif" font-size="14.5" font-weight="bold" fill="#2020f0" stroke="#2020f0" stroke-width="0.3">1</text>
<text transform="translate(171.3,79) scale(0.72,1)" font-family="Liberation Sans, Arial, sans-serif" font-size="14.5" font-weight="bold" fill="#e8202a" letter-spacing="2.58">Ag-H</text>
<text transform="translate(203.2,83.2) scale(0.9,1)" font-family="Liberation Sans, Arial, sans-serif" font-size="9.5" font-weight="bold" fill="#e8202a">2</text>
<text transform="translate(209.0,79) scale(0.68,1)" font-family="Liberation Sans, Arial, sans-serif" font-size="14.5" font-weight="bold" fill="#e8202a">O</text>
<text transform="translate(112.8,106.4) scale(0.74,1)" font-family="Liberation Sans, Arial, sans-serif" font-size="14.5" font-weight="bold" fill="#2020f0" letter-spacing="2.17">Pr=3.39,6.2,10</text>
<text transform="translate(140.1,140.7) scale(0.78,1)" font-family="Liberation Sans, Arial, sans-serif" font-size="14.5" font-weight="bold" fill="#2020f0">U</text>
<text transform="translate(149.29999999999998,147.29999999999998) scale(0.7,1)" font-family="Liberation Sans, Arial, sans-serif" font-size="12" font-weight="bold" fill="#2020f0">∞</text>
<text transform="translate(160.1,140.7) scale(0.8,1)" font-family="Liberation Sans, Arial, sans-serif" font-size="14.5" font-weight="bold" fill="#2020f0">=</text>
<text transform="translate(169.5,140.7) scale(0.84,1)" font-family="Liberation Sans, Arial, sans-serif" font-size="14.5" font-weight="bold" fill="#2020f0" letter-spacing="1.29">0.0</text>
<text transform="translate(138.8,161.4) scale(0.78,1)" font-family="Liberation Sans, Arial, sans-serif" font-size="14.5" font-weight="bold" fill="#2020f0">U</text>
<text transform="translate(148.0,168.0) scale(0.7,1)" font-family="Liberation Sans, Arial, sans-serif" font-size="12" font-weight="bold" fill="#2020f0">∞</text>
<text transform="translate(160.1,161.4) scale(0.8,1)" font-family="Liberation Sans, Arial, sans-serif" font-size="14.5" font-weight="bold" fill="#2020f0">=</text>
<text transform="translate(169.5,161.4) scale(0.84,1)" font-family="Liberation Sans, Arial, sans-serif" font-size="14.5" font-weight="bold" fill="#2020f0" letter-spacing="2.42">0.4</text>
<text transform="translate(137.70000000000002,185.3) scale(0.78,1)" font-family="Liberation Sans, Arial, sans-serif" font-size="14.5" font-weight="bold" fill="#2020f0">U</text>
<text transform="translate(146.9,191.9) scale(0.7,1)" font-family="Liberation Sans, Arial, sans-serif" font-size="12" font-weight="bold" fill="#2020f0">∞</text>
<text transform="translate(159.4,185.3) scale(0.8,1)" font-family="Liberation Sans, Arial, sans-serif" font-size="14.5" font-weight="bold" fill="#2020f0">=</text>
<text transform="translate(168.1,185.3) scale(0.84,1)" font-family="Liberation Sans, Arial, sans-serif" font-size="14.5" font-weight="bold" fill="#2020f0" letter-spacing="1.77">0.8</text>
<line x1="199.3" y1="139.5" x2="255.8" y2="139.5" stroke="#000" stroke-width="1.3"/>
<line x1="196.5" y1="157.8" x2="255" y2="157.8" stroke="#000" stroke-width="1.3" stroke-dasharray="3.5 3.7"/>
<line x1="197.6" y1="178.2" x2="259.6" y2="178.2" stroke="#000" stroke-width="1.4" stroke-dasharray="4.1 7.2 4.2 7 5.5 2.4 1.2 2.4 5.2 2.3 1.4 2.2 5.2 2.3 1.6 2.3 5.5 9"/>
<line x1="146.1" y1="109.5" x2="77.2" y2="231.1" stroke="#000" stroke-width="1.1"/>
<polygon points="71,242 73.3,229.0 81.0,233.3" fill="#000"/>
<rect x="263.8" y="68.7" width="64.4" height="132.3" fill="#fff" stroke="#000" stroke-width="1.4"/>
<line x1="264.5" y1="77.6" x2="283.8" y2="77.6" stroke="#ff0000" stroke-width="1.6"/>
<text transform="translate(287.2,81.4) scale(0.9,1)" font-family="Liberation Sans, Arial, sans-serif" font-size="10.5" font-weight="bold" fill="#ff1a7e" letter-spacing="0.72">Pr=3.39</text>
<line x1="264.5" y1="92.3" x2="283.8" y2="92.3" stroke="#ff0000" stroke-width="1.6" stroke-dasharray="3 4.4"/>
<text transform="translate(287.2,96.1) scale(0.9,1)" font-family="Liberation Sans, Arial, sans-serif" font-size="10.5" font-weight="bold" fill="#ff1a7e" letter-spacing="0.72">Pr=3.39</text>
<line x1="264.5" y1="107.0" x2="283.8" y2="107.0" stroke="#ff0000" stroke-width="1.6" stroke-dasharray="6.2 2.4 1.3 2.5"/>
<text transform="translate(287.2,110.8) scale(0.9,1)" font-family="Liberation Sans, Arial, sans-serif" font-size="10.5" font-weight="bold" fill="#ff1a7e" letter-spacing="0.72">Pr=3.39</text>
<line x1="264.5" y1="121.7" x2="283.8" y2="121.7" stroke="#00ff00" stroke-width="1.6"/>
<text transform="translate(287.2,125.5) scale(0.9,1)" font-family="Liberation Sans, Arial, sans-serif" font-size="10.5" font-weight="bold" fill="#ff1a7e" letter-spacing="0.48">Pr=6.2</text>
<line x1="264.5" y1="136.4" x2="283.8" y2="136.4" stroke="#00ff00" stroke-width="1.6" stroke-dasharray="3 4.4"/>
<text transform="translate(287.2,140.2) scale(0.9,1)" font-family="Liberation Sans, Arial, sans-serif" font-size="10.5" font-weight="bold" fill="#ff1a7e" letter-spacing="0.48">Pr=6.2</text>
<line x1="264.5" y1="151.1" x2="283.8" y2="151.1" stroke="#00ff00" stroke-width="1.6" stroke-dasharray="6.2 2.4 1.3 2.5"/>
<text transform="translate(287.2,154.9) scale(0.9,1)" font-family="Liberation Sans, Arial, sans-serif" font-size="10.5" font-weight="bold" fill="#ff1a7e" letter-spacing="0.48">Pr=6.2</text>
<line x1="264.5" y1="165.8" x2="283.8" y2="165.8" stroke="#0000ff" stroke-width="1.6"/>
<text transform="translate(287.2,169.6) scale(0.9,1)" font-family="Liberation Sans, Arial, sans-serif" font-size="10.5" font-weight="bold" fill="#ff1a7e" letter-spacing="0.77">Pr=10</text>
<line x1="264.5" y1="180.5" x2="283.8" y2="180.5" stroke="#0000ff" stroke-width="1.6" stroke-dasharray="3 4.4"/>
<text transform="translate(287.2,184.3) scale(0.9,1)" font-family="Liberation Sans, Arial, sans-serif" font-size="10.5" font-weight="bold" fill="#ff1a7e" letter-spacing="0.77">Pr=10</text>
<line x1="264.5" y1="195.2" x2="283.8" y2="195.2" stroke="#0000ff" stroke-width="1.6" stroke-dasharray="6.2 2.4 1.3 2.5"/>
<text transform="translate(287.2,199.0) scale(0.9,1)" font-family="Liberation Sans, Arial, sans-serif" font-size="10.5" font-weight="bold" fill="#ff1a7e" letter-spacing="0.77">Pr=10</text>
<text transform="translate(14.6,181.5) rotate(-90) scale(1.316,1)" font-family="Liberation Sans, Arial, sans-serif" font-size="16" font-weight="bold" fill="#e8202a">θ(ξ,η)</text>
<text transform="translate(185.6,289.2) scale(0.98,1)" font-family="Liberation Sans, Arial, sans-serif" font-size="18" font-weight="bold" fill="#e8202a">η</text>
<text transform="translate(180.8,314.3)" font-family="Liberation Serif, Times New Roman, serif" font-size="17.5" fill="#111">(a)</text>
</g>
<g id="annB">
<text transform="translate(512,52) scale(0.9,1)" font-family="Liberation Sans, Arial, sans-serif" font-size="14.5" font-weight="bold" fill="#2020f0" stroke="#2020f0" stroke-width="0.6" letter-spacing="-1.15">ϕ=0.5,</text>
<text transform="translate(547.3,52) scale(0.7,1)" font-family="Liberation Sans, Arial, sans-serif" font-size="15.5" font-weight="bold" fill="#2020f0" stroke="#2020f0" stroke-width="0.3">m</text>
<text transform="translate(560.8,52) scale(0.74,1)" font-family="Liberation Sans, Arial, sans-serif" font-size="15.5" font-weight="bold" fill="#2020f0" stroke="#2020f0" stroke-width="0.3" letter-spacing="0.54">=0.25,</text>
<text transform="translate(601.2,52) scale(0.9,1)" font-family="Liberation Sans, Arial, sans-serif" font-size="14.5" font-weight="bold" fill="#2020f0" stroke="#2020f0" stroke-width="0.6" letter-spacing="-0.24">ξ=0.5,</text>
<text transform="translate(636.2,52) scale(0.72,1)" font-family="Liberation Sans, Arial, sans-serif" font-size="15.5" font-weight="bold" fill="#2020f0" stroke="#2020f0" stroke-width="0.3">U</text>
<text transform="translate(647,57.2) scale(0.85,1)" font-family="Liberation Sans, Arial, sans-serif" font-size="9" font-weight="bold" fill="#2020f0">w</text>
<text transform="translate(656,52) scale(0.7,1)" font-family="Liberation Sans, Arial, sans-serif" font-size="15.5" font-weight="bold" fill="#2020f0" stroke="#2020f0" stroke-width="0.3" letter-spacing="-1.53">=1</text>
<text transform="translate(511.3,97.5) scale(0.74,1)" font-family="Liberation Sans, Arial, sans-serif" font-size="15.5" font-weight="bold" fill="#e8202a" letter-spacing="1.76">Ag-H</text>
<text transform="translate(543.2,101.8) scale(0.9,1)" font-family="Liberation Sans, Arial, sans-serif" font-size="9.5" font-weight="bold" fill="#e8202a">2</text>
<text transform="translate(548.3,97.5) scale(0.7,1)" font-family="Liberation Sans, Arial, sans-serif" font-size="15.5" font-weight="bold" fill="#e8202a">O</text>
<text transform="translate(459.8,145.5) scale(0.82,1)" font-family="Liberation Sans, Arial, sans-serif" font-size="15.5" font-weight="bold" fill="#2020f0" letter-spacing="0.60">Pr=3.39,6.2,10</text>
<text transform="translate(471.4,171) scale(0.74,1)" font-family="Liberation Sans, Arial, sans-serif" font-size="15" font-weight="bold" fill="#2020f0">U</text>
<text transform="translate(480.6,177.6) scale(0.7,1)" font-family="Liberation Sans, Arial, sans-serif" font-size="12.5" font-weight="bold" fill="#2020f0">∞</text>
<text transform="translate(489.4,171) scale(0.72,1)" font-family="Liberation Sans, Arial, sans-serif" font-size="15" font-weight="bold" fill="#2020f0">=</text>
<text transform="translate(498.2,171) scale(0.8,1)" font-family="Liberation Sans, Arial, sans-serif" font-size="15" font-weight="bold" fill="#2020f0" letter-spacing="1.95">0.0</text>
<text transform="translate(469.79999999999995,193.8) scale(0.74,1)" font-family="Liberation Sans, Arial, sans-serif" font-size="15" font-weight="bold" fill="#2020f0">U</text>
<text transform="translate(479.0,200.4) scale(0.7,1)" font-family="Liberation Sans, Arial, sans-serif" font-size="12.5" font-weight="bold" fill="#2020f0">∞</text>
<text transform="translate(491.7,193.8) scale(0.72,1)" font-family="Liberation Sans, Arial, sans-serif" font-size="15" font-weight="bold" fill="#2020f0">=</text>
<text transform="translate(499.2,193.8) scale(0.8,1)" font-family="Liberation Sans, Arial, sans-serif" font-size="15" font-weight="bold" fill="#2020f0" letter-spacing="1.51">0.4</text>
<text transform="translate(467.5,218.8) scale(0.74,1)" font-family="Liberation Sans, Arial, sans-serif" font-size="15" font-weight="bold" fill="#2020f0">U</text>
<text transform="translate(476.70000000000005,225.4) scale(0.7,1)" font-family="Liberation Sans, Arial, sans-serif" font-size="12.5" font-weight="bold" fill="#2020f0">∞</text>
<text transform="translate(489.4,218.8) scale(0.72,1)" font-family="Liberation Sans, Arial, sans-serif" font-size="15" font-weight="bold" fill="#2020f0">=</text>
<text transform="translate(497.5,218.8) scale(0.8,1)" font-family="Liberation Sans, Arial, sans-serif" font-size="15" font-weight="bold" fill="#2020f0" letter-spacing="1.01">0.8</text>
<line x1="526.7" y1="170.2" x2="579.8" y2="170.2" stroke="#000" stroke-width="1.4"/>
<line x1="524.1" y1="190" x2="579" y2="190" stroke="#000" stroke-width="1.4" stroke-dasharray="3.5 5.3 3.5 5.3 3.5 5.3 3.5 5.3 3.5 5.3 3.5 5.3 1.5 9"/>
<line x1="525.5" y1="212.7" x2="585" y2="212.7" stroke="#000" stroke-width="1.4" stroke-dasharray="3.3 7.5 4.6 2.5 1.4 2.2 4.9 6.6 4.7 2.4 1.4 2.3 4.8 6.7 4.1 9"/>
<line x1="483.9" y1="116.2" x2="459.6" y2="35.9" stroke="#000" stroke-width="1.1"/>
<polygon points="455.6,22.5 463.4,34.8 455.9,37.0" fill="#000"/>
<line x1="426.8" y1="60" x2="448.7" y2="192.2" stroke="#000" stroke-width="1.1"/>
<polygon points="451,206 444.6,192.9 452.9,191.5" fill="#000"/>
<rect x="602.4" y="67.4" width="62.8" height="141.6" fill="#fff" stroke="#000" stroke-width="1.4"/>
<line x1="604.2" y1="76.7" x2="622.6" y2="76.7" stroke="#ff0000" stroke-width="1.6"/>
<text transform="translate(626.3,80.5) scale(0.87,1)" font-family="Liberation Sans, Arial, sans-serif" font-size="10.5" font-weight="bold" fill="#ff1a7e" letter-spacing="0.72">Pr=3.39</text>
<line x1="604.2" y1="92.3" x2="622.6" y2="92.3" stroke="#ff0000" stroke-width="1.6" stroke-dasharray="3 3.4"/>
<text transform="translate(626.3,96.1) scale(0.87,1)" font-family="Liberation Sans, Arial, sans-serif" font-size="10.5" font-weight="bold" fill="#ff1a7e" letter-spacing="0.72">Pr=3.39</text>
<line x1="604.2" y1="107.9" x2="622.6" y2="107.9" stroke="#ff0000" stroke-width="1.6" stroke-dasharray="5.3 1.8 1.2 2.2"/>
<text transform="translate(626.3,111.7) scale(0.87,1)" font-family="Liberation Sans, Arial, sans-serif" font-size="10.5" font-weight="bold" fill="#ff1a7e" letter-spacing="0.72">Pr=3.39</text>
<line x1="604.2" y1="123.5" x2="622.6" y2="123.5" stroke="#00ff00" stroke-width="1.6"/>
<text transform="translate(626.3,127.3) scale(0.87,1)" font-family="Liberation Sans, Arial, sans-serif" font-size="10.5" font-weight="bold" fill="#ff1a7e" letter-spacing="0.46">Pr=6.2</text>
<line x1="604.2" y1="139.1" x2="622.6" y2="139.1" stroke="#00ff00" stroke-width="1.6" stroke-dasharray="3 3.4"/>
<text transform="translate(626.3,142.9) scale(0.87,1)" font-family="Liberation Sans, Arial, sans-serif" font-size="10.5" font-weight="bold" fill="#ff1a7e" letter-spacing="0.46">Pr=6.2</text>
<line x1="604.2" y1="154.7" x2="622.6" y2="154.7" stroke="#00ff00" stroke-width="1.6" stroke-dasharray="5.3 1.8 1.2 2.2"/>
<text transform="translate(626.3,158.5) scale(0.87,1)" font-family="Liberation Sans, Arial, sans-serif" font-size="10.5" font-weight="bold" fill="#ff1a7e" letter-spacing="0.46">Pr=6.2</text>
<line x1="604.2" y1="170.3" x2="622.6" y2="170.3" stroke="#0000ff" stroke-width="1.6"/>
<text transform="translate(626.3,174.1) scale(0.87,1)" font-family="Liberation Sans, Arial, sans-serif" font-size="10.5" font-weight="bold" fill="#ff1a7e" letter-spacing="0.59">Pr=10</text>
<line x1="604.2" y1="185.9" x2="622.6" y2="185.9" stroke="#0000ff" stroke-width="1.6" stroke-dasharray="3 3.4"/>
<text transform="translate(626.3,189.7) scale(0.87,1)" font-family="Liberation Sans, Arial, sans-serif" font-size="10.5" font-weight="bold" fill="#ff1a7e" letter-spacing="0.59">Pr=10</text>
<line x1="604.2" y1="201.5" x2="622.6" y2="201.5" stroke="#0000ff" stroke-width="1.6" stroke-dasharray="5.3 1.8 1.2 2.2"/>
<text transform="translate(626.3,205.3) scale(0.87,1)" font-family="Liberation Sans, Arial, sans-serif" font-size="10.5" font-weight="bold" fill="#ff1a7e" letter-spacing="0.59">Pr=10</text>
<text transform="translate(366.6,147) rotate(-90) scale(1.291,1)" font-family="Liberation Sans, Arial, sans-serif" font-size="17" font-weight="bold" fill="#e8202a">θ′(ξ,η)</text>
<text transform="translate(541,294.8) scale(0.8,1)" font-family="Liberation Sans, Arial, sans-serif" font-size="21" font-weight="bold" fill="#e8202a">η</text>
<text transform="translate(539,315.5)" font-family="Liberation Serif, Times New Roman, serif" font-size="17.5" fill="#111">(b)</text>
</g>
</svg>
</body></html>
